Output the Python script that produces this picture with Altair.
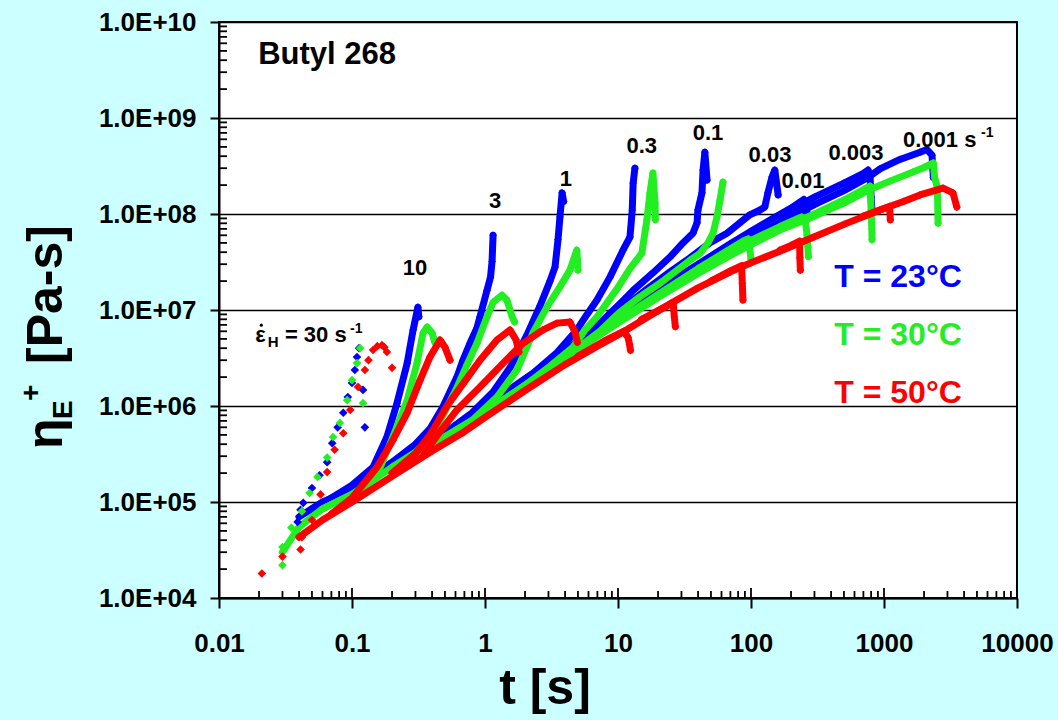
import altair as alt
import pandas as pd

FONT = "Liberation Sans"
BLUE, GREEN, RED = "#0000FF", "#22EE22", "#FF0000"

# ---------------- data (t [s], eta [Pa-s]) ----------------
# T = 23 C (blue)
B30_T = [0.039, 0.041, 0.043, 0.050, 0.057, 0.065, 0.071, 0.078, 0.086, 0.093, 0.100, 0.105, 0.109, 0.113, 0.121, 0.125]
B30_ETA = [6.2e4, 8.3e4, 9.8e4, 1.4e5, 1.9e5, 2.6e5, 4.1e5, 6.0e5, 8.5e5, 1.24e6, 1.74e6, 2.37e6, 3.24e6, 4.0e6, 1.47e6, 6.0e5]
B10_T = [0.05, 0.07, 0.1, 0.144, 0.183, 0.218, 0.26, 0.288, 0.313, 0.318]
B10_ETA = [8.5e4, 1.1e5, 1.5e5, 2.3e5, 4.75e5, 1.07e6, 2.8e6, 6.2e6, 1.07e7, 8.5e6]
B3_T = [0.1, 0.2, 0.3, 0.386, 0.483, 0.615, 0.683, 0.771, 0.87, 0.917, 1.035, 1.1, 1.13, 1.15]
B3_ETA = [1.4e5, 2.6e5, 4.0e5, 5.8e5, 9.8e5, 2.0e6, 3.0e6, 4.5e6, 6.5e6, 8.5e6, 1.6e7, 2.2e7, 3.2e7, 6.0e7]
B1_T = [0.3, 0.55, 0.8, 1.15, 1.54, 2.07, 2.59, 3.08, 3.36, 3.54, 3.66, 3.8, 3.9]
B1_ETA = [3.7e5, 5.8e5, 8.5e5, 1.4e6, 2.5e6, 5.5e6, 1.1e7, 2.0e7, 2.8e7, 5.4e7, 9.3e7, 1.66e8, 1.35e8]
B03_T = [1.0, 1.54, 2.3, 3.48, 4.9, 5.85, 6.95, 8.7, 10.9, 12.3, 12.8, 13.0, 13.4]
B03_ETA = [1.0e6, 1.5e6, 2.2e6, 3.6e6, 6.2e6, 9.0e6, 1.27e7, 2.2e7, 4.2e7, 5.75e7, 1.1e8, 2.1e8, 3.0e8]
B01_T = [2.0, 3.48, 5.18, 7.7, 10.9, 13.0, 18.3, 24.6, 30.8, 36.6, 39.3, 39.9, 42.8, 43.6, 45.0, 46.7]
B01_ETA = [1.9e6, 3.2e6, 5.0e6, 7.8e6, 1.25e7, 1.6e7, 2.43e7, 3.56e7, 5.0e7, 6.3e7, 8.1e7, 1.1e8, 1.66e8, 2.87e8, 4.4e8, 2.26e8]
B003_T = [4.0, 7.3, 10.9, 16.5, 24.6, 34.8, 49, 66, 82.6, 98, 117, 127, 134, 144, 151, 160]
B003_ETA = [3.7e6, 7.0e6, 1.05e7, 1.65e7, 2.5e7, 3.5e7, 5.0e7, 6.3e7, 8.1e7, 9.8e7, 1.1e8, 1.18e8, 1.66e8, 2.43e8, 2.87e8, 1.58e8]
B001_T = [20, 40, 70, 100, 150, 200, 250, 262, 268]
B001_ETA = [1.65e7, 3.0e7, 4.9e7, 6.6e7, 9.2e7, 1.15e8, 1.42e8, 1.1e8, 9.0e7]
B0003_T = [165, 300, 500, 700, 759, 786, 800, 810]
B0003_ETA = [9.5e7, 1.5e8, 2.1e8, 2.65e8, 2.87e8, 2.4e8, 1.5e8, 1.15e8]
B0001_T = [0.04, 0.06, 0.1, 0.2, 0.4, 0.7, 1, 2, 4, 7, 10, 20, 40, 70, 100, 165, 300, 500, 759, 933, 1318, 1866, 2100, 2296, 2350]
B0001_ETA = [7.0e4, 1.0e5, 1.35e5, 2.5e5, 4.3e5, 6.8e5, 9.5e5, 1.85e6, 3.6e6, 6.3e6, 8.8e6, 1.6e7, 2.8e7, 4.3e7, 5.6e7, 8.2e7, 1.25e8, 1.75e8, 2.4e8, 2.95e8, 3.7e8, 4.4e8, 4.7e8, 4.1e8, 2.4e8]

# T = 30 C (green)
G30_T = [0.030, 0.030, 0.035, 0.042, 0.048, 0.055, 0.065, 0.072, 0.081, 0.092, 0.100, 0.109, 0.115, 0.121]
G30_ETA = [2.2e4, 3.4e4, 5.4e4, 8.0e4, 1.24e5, 1.82e5, 2.9e5, 4.75e5, 6.65e5, 1.15e6, 1.86e6, 2.8e6, 4.0e6, 1.07e6]
G10_T = [0.06, 0.1, 0.121, 0.163, 0.203, 0.26, 0.308, 0.342, 0.367, 0.40, 0.42]
G10_ETA = [8.5e4, 1.2e5, 1.43e5, 2.3e5, 4.75e5, 1.15e6, 2.8e6, 5.75e6, 6.65e6, 5.75e6, 4.6e6]
G3_T = [0.2, 0.3, 0.386, 0.483, 0.615, 0.733, 0.87, 1.035, 1.15, 1.34, 1.46, 1.6, 1.67]
G3_ETA = [2.3e5, 3.3e5, 4.6e5, 8.0e5, 1.55e6, 2.7e6, 4.5e6, 8.5e6, 1.2e7, 1.43e7, 1.27e7, 8.5e6, 7.5e6]
G1_T = [0.4, 0.6, 0.81, 1.23, 1.74, 2.30, 2.92, 3.66, 4.35, 4.9, 4.95, 5.0]
G1_ETA = [4.0e5, 5.6e5, 7.2e5, 1.24e6, 2.37e6, 5.8e6, 1.07e7, 1.74e7, 2.6e7, 4.2e7, 3.4e7, 2.6e7]
G03_T = [1.3, 2.07, 3.08, 4.59, 5.65, 6.95, 9.8, 12.3, 15.1, 16.5, 17.4, 18.3, 19.0, 19.1]
G03_ETA = [1.1e6, 1.7e6, 2.6e6, 4.1e6, 6.2e6, 8.5e6, 1.65e7, 2.7e7, 3.9e7, 8.7e7, 1.66e8, 2.67e8, 1.3e8, 8.7e7]
G01_T = [4.0, 7.3, 10.35, 14.6, 20.7, 27.8, 34.8, 41.4, 47.5, 51.8, 55.5, 58.5, 61.6]
G01_ETA = [3.2e6, 6.0e6, 9.5e6, 1.37e7, 1.9e7, 2.6e7, 3.3e7, 3.9e7, 5.0e7, 6.3e7, 9.3e7, 1.4e8, 2.15e8]
G003_T = [10, 20, 40, 60, 87, 95, 98, 100]
G003_ETA = [7.8e6, 1.45e7, 2.7e7, 3.8e7, 5.2e7, 5.5e7, 4.3e7, 3.4e7]
G001_T = [50, 100, 165, 240, 255, 264, 268, 270]
G001_ETA = [3.0e7, 5.3e7, 7.4e7, 9.3e7, 9.0e7, 6.0e7, 4.5e7, 3.6e7]
G0003_T = [165, 300, 500, 700, 785, 800, 810, 813]
G0003_ETA = [7.0e7, 1.0e8, 1.4e8, 1.8e8, 1.95e8, 1.1e8, 7.0e7, 5.4e7]
G0001_T = [0.03, 0.04, 0.06, 0.1, 0.2, 0.4, 0.7, 1, 2, 4, 7, 10, 20, 40, 70, 100, 165, 300, 500, 785, 1110, 1652, 2000, 2350, 2400, 2520, 2550]
G0001_ETA = [3.0e4, 5.5e4, 8.5e4, 1.2e5, 2.3e5, 4.0e5, 6.2e5, 8.6e5, 1.65e6, 3.1e6, 5.3e6, 7.3e6, 1.35e7, 2.4e7, 3.7e7, 4.8e7, 6.8e7, 9.5e7, 1.3e8, 1.8e8, 2.2e8, 2.74e8, 3.05e8, 3.4e8, 2.4e8, 1.9e8, 8.0e7]

# T = 50 C (red)
R30_T = [0.021, 0.030, 0.041, 0.042, 0.050, 0.058, 0.065, 0.074, 0.086, 0.097, 0.111, 0.125, 0.133, 0.144, 0.155, 0.168, 0.175, 0.183, 0.200]
R30_ETA = [1.8e4, 2.7e4, 3.2e4, 4.3e4, 6.5e4, 1.2e5, 2.05e5, 3.5e5, 5.2e5, 9.1e5, 1.58e6, 2.37e6, 3.0e6, 3.83e6, 4.2e6, 4.3e6, 4.1e6, 3.65e6, 2.5e6]
R10_T = [0.07, 0.1, 0.154, 0.203, 0.26, 0.325, 0.386, 0.459, 0.50, 0.546]
R10_ETA = [7.5e4, 1.1e5, 2.3e5, 4.4e5, 8.5e5, 1.86e6, 3.24e6, 4.87e6, 4.1e6, 3.0e6]
R3_T = [0.2, 0.3, 0.386, 0.518, 0.683, 0.917, 1.23, 1.54, 1.71, 1.8]
R3_ETA = [2.0e5, 3.2e5, 5.0e5, 1.0e6, 1.7e6, 3.0e6, 4.87e6, 6.2e6, 4.9e6, 3.65e6]
R1_T = [0.35, 0.45, 0.615, 0.917, 1.37, 1.93, 2.73, 3.48, 4.35, 4.75, 4.95]
R1_ETA = [3.2e5, 5.2e5, 9.1e5, 1.58e6, 2.8e6, 4.5e6, 6.2e6, 7.3e6, 7.5e6, 5.9e6, 4.6e6]
R03_T = [5, 8, 11, 11.9, 12.2, 12.4]
R03_ETA = [3.3e6, 4.8e6, 6.0e6, 5.2e6, 4.4e6, 3.8e6]
R01_T = [15, 22, 26, 26.5, 27]
R01_ETA = [8.0e6, 1.05e7, 1.2e7, 8.5e6, 6.7e6]
R003_T = [50, 70, 85, 86, 87]
R003_ETA = [2.0e7, 2.55e7, 2.9e7, 1.9e7, 1.27e7]
R001_T = [165, 200, 232, 233, 235]
R001_ETA = [4.2e7, 4.7e7, 5.2e7, 3.5e7, 2.6e7]
R0003_T = [700, 900, 1100, 1110, 1115]
R0003_ETA = [9.5e7, 1.08e8, 1.2e8, 1.0e8, 8.7e7]
R0001_T = [0.04, 0.06, 0.1, 0.2, 0.4, 0.7, 1, 2, 4, 7, 10, 20, 40, 70, 100, 165, 300, 500, 933, 1400, 1866, 2780, 3300, 3530]
R0001_ETA = [4.3e4, 6.5e4, 1.0e5, 1.85e5, 3.4e5, 5.4e5, 7.6e5, 1.45e6, 2.7e6, 4.2e6, 5.5e6, 9.8e6, 1.7e7, 2.5e7, 3.1e7, 4.1e7, 5.8e7, 7.8e7, 1.1e8, 1.35e8, 1.58e8, 1.86e8, 1.66e8, 1.18e8]

# labels
RATE_LABELS = ["10", "3", "1", "0.3", "0.1", "0.03", "0.01", "0.003"]
RATE_LABEL_T = [0.298, 1.19, 4.06, 15.1, 47.5, 139, 246, 616]
RATE_LABEL_ETA = [2.3e7, 1.15e8, 1.96e8, 4.3e8, 5.9e8, 3.48e8, 1.87e8, 3.65e8]
TEMP_LABELS = ["T = 23°C", "T = 30°C", "T = 50°C"]
TEMP_KEYS = ["23", "30", "50"]
TEMP_LABEL_T = [1275, 1275, 1275]
TEMP_LABEL_ETA = [1.74e7, 4.32e6, 1.07e6]

# axes: domain, major ticks and minor ticks
X_DOMAIN = [0.01, 10000]
Y_DOMAIN = [1e4, 1e10]
X_MAJOR = [0.01, 0.1, 1, 10, 100, 1000, 10000]
Y_MAJOR = [1e4, 1e5, 1e6, 1e7, 1e8, 1e9, 1e10]
X_MINOR = [m * 10.0 ** e for e in range(-2, 4) for m in range(2, 10)]
Y_MINOR = [m * 10.0 ** e for e in range(4, 10) for m in range(2, 10)]
PLOT_W, PLOT_H = 798, 576

DENSE = [
    ("23", "10", B10_T, B10_ETA), ("23", "3", B3_T, B3_ETA), ("23", "1", B1_T, B1_ETA),
    ("23", "0.3", B03_T, B03_ETA), ("23", "0.1", B01_T, B01_ETA), ("23", "0.03", B003_T, B003_ETA),
    ("23", "0.01", B001_T, B001_ETA), ("23", "0.003", B0003_T, B0003_ETA), ("23", "0.001", B0001_T, B0001_ETA),
    ("30", "10", G10_T, G10_ETA), ("30", "3", G3_T, G3_ETA), ("30", "1", G1_T, G1_ETA),
    ("30", "0.3", G03_T, G03_ETA), ("30", "0.1", G01_T, G01_ETA), ("30", "0.03", G003_T, G003_ETA),
    ("30", "0.01", G001_T, G001_ETA), ("30", "0.003", G0003_T, G0003_ETA), ("30", "0.001", G0001_T, G0001_ETA),
    ("50", "10", R10_T, R10_ETA), ("50", "3", R3_T, R3_ETA), ("50", "1", R1_T, R1_ETA),
    ("50", "0.3", R03_T, R03_ETA), ("50", "0.1", R01_T, R01_ETA), ("50", "0.03", R003_T, R003_ETA),
    ("50", "0.01", R001_T, R001_ETA), ("50", "0.003", R0003_T, R0003_ETA), ("50", "0.001", R0001_T, R0001_ETA),
]
SPARSE = [("23", "30", B30_T, B30_ETA), ("30", "30", G30_T, G30_ETA), ("50", "30", R30_T, R30_ETA)]


def frame(curves):
    rows = []
    for temp, rate, ts, es in curves:
        for i, (t, e) in enumerate(zip(ts, es)):
            rows.append({"T": temp, "curve": temp + "_" + rate, "i": i, "t": t, "eta": e})
    return pd.DataFrame(rows)


dense = frame(DENSE)
sparse = frame(SPARSE)

# inward tick segments as two-point lines (tick lengths in px converted to log spans)
dec_y_px = PLOT_H / 6.0
dec_x_px = PLOT_W / 6.0
tick_rows = []
for k, v in enumerate(X_MINOR + X_MAJOR):
    length = 7 if k < len(X_MINOR) else 10
    tick_rows.append({"curve": "x%d" % k, "i": 0, "t": v, "eta": Y_DOMAIN[0]})
    tick_rows.append({"curve": "x%d" % k, "i": 1, "t": v, "eta": Y_DOMAIN[0] * 10 ** (length / dec_y_px)})
for k, v in enumerate(Y_MINOR):
    tick_rows.append({"curve": "y%d" % k, "i": 0, "t": X_DOMAIN[0], "eta": v})
    tick_rows.append({"curve": "y%d" % k, "i": 1, "t": X_DOMAIN[0] * 10 ** (8 / dec_x_px), "eta": v})
ticks = pd.DataFrame(tick_rows)

xs = alt.Scale(type="log", domain=X_DOMAIN, nice=False)
ys = alt.Scale(type="log", domain=Y_DOMAIN, nice=False)
cs = alt.Scale(domain=TEMP_KEYS, range=[BLUE, GREEN, RED])

x_axis = alt.Axis(values=X_MAJOR, format="~g", title=None, grid=False, orient="bottom", labelFont=FONT,
                  labelFontSize=26, labelFontWeight="bold", labelColor="black", labelPadding=22,
                  labelFlush=False, labelOverlap=False, tickSize=10, tickWidth=2, tickColor="black",
                  domainColor="black", domainWidth=2)
y_axis = alt.Axis(values=Y_MAJOR, title=None, grid=True, gridColor="black", gridWidth=1.5, gridOpacity=1,
                  orient="left",
                  labelExpr="'1.0E+' + (datum.value >= 1e10 ? '' : '0') + format(log(datum.value) / LN10, '.0f')",
                  labelFont=FONT, labelFontSize=26, labelFontWeight="bold", labelColor="black",
                  labelPadding=14, labelOverlap=False, tickSize=9, tickWidth=2, tickColor="black",
                  domainColor="black", domainWidth=2)


def X(field="t"):
    return alt.X(field + ":Q", scale=xs, axis=x_axis)


def Y(field="eta"):
    return alt.Y(field + ":Q", scale=ys, axis=y_axis)


COLOR = alt.Color("T:N", scale=cs, legend=None)

layers = []
for key in TEMP_KEYS:
    base = alt.Chart(dense).transform_filter(alt.datum.T == key)
    line = base.mark_line(strokeWidth=7, strokeCap="round", strokeJoin="round").encode(
        x=X(), y=Y(), color=COLOR, detail="curve:N", order="i:Q")
    pts = base.mark_point(shape="diamond", filled=True, size=60, opacity=1).encode(x=X(), y=Y(), color=COLOR)
    layers += [line, pts]

layers.append(alt.Chart(sparse).mark_point(shape="diamond", filled=True, size=75, opacity=1).encode(
    x=X(), y=Y(), color=COLOR))

layers.append(alt.Chart(ticks).mark_line(color="black", strokeWidth=1.8, strokeCap="butt").encode(
    x=X(), y=Y(), detail="curve:N", order="i:Q"))

# rate labels
rl = pd.DataFrame({"label": RATE_LABELS, "t": RATE_LABEL_T, "eta": RATE_LABEL_ETA})
layers.append(alt.Chart(rl).mark_text(font=FONT, fontSize=22, fontWeight="bold", color="black",
                                      align="center", baseline="alphabetic").encode(x=X(), y=Y(), text="label:N"))


def txt(s, t, eta, size, align="left", color="black"):
    return alt.Chart(pd.DataFrame({"s": [s], "t": [t], "eta": [eta]})).mark_text(
        font=FONT, fontSize=size, fontWeight="bold", color=color, align=align, baseline="alphabetic"
    ).encode(x=X(), y=Y(), text="s:N")


layers.append(txt("0.001 s", 1390, 5.0e8, 22))
layers.append(txt("-1", 5360, 6.3e8, 14))
layers.append(txt("\u03b5", 0.0187, 4.64e6, 22))
# dot over epsilon (rate symbol)
layers.append(alt.Chart(pd.DataFrame({"t": [0.0208], "eta": [6.95e6]})).mark_point(
    shape="circle", filled=True, size=10, color="black", opacity=1).encode(x=X(), y=Y()))
layers.append(txt("H", 0.0233, 4.1e6, 15))
layers.append(txt("= 30 s", 0.0313, 4.64e6, 22))
layers.append(txt("-1", 0.0966, 5.76e6, 14))
layers.append(txt("Butyl 268", 0.0197, 3.65e9, 31))

tl = pd.DataFrame({"label": TEMP_LABELS, "T": TEMP_KEYS, "t": TEMP_LABEL_T, "eta": TEMP_LABEL_ETA})
layers.append(alt.Chart(tl).mark_text(font=FONT, fontSize=32, fontWeight="bold", align="center",
                                      baseline="alphabetic").encode(
    x=X(), y=Y(), text="label:N", color=COLOR))


# axis titles (outside the plot, placed in pixels relative to the plot origin)
def ptxt(s, px, py, size, angle=0, align="left"):
    return alt.Chart(pd.DataFrame({"s": [s]})).mark_text(
        font=FONT, fontSize=size, fontWeight="bold", color="black", align=align, baseline="alphabetic",
        angle=angle).encode(x=alt.value(px - 219), y=alt.value(py - 22), text="s:N")


layers.append(ptxt("t [s]", 545, 704, 50, align="center"))
layers.append(ptxt("\u03b7", 62, 449, 50, angle=270))
layers.append(ptxt("E", 72, 419, 28, angle=270))
layers.append(ptxt("+", 40, 401, 28, angle=270))
layers.append(ptxt("[Pa-s]", 62, 364, 50, angle=270))

chart = alt.layer(*layers).properties(
    width=PLOT_W, height=PLOT_H, background="#CCFFFF",
    padding={"left": 219, "top": 22, "right": 41, "bottom": 122},
    autosize=alt.AutoSizeParams(type="none"),
).configure_view(fill="white", stroke="black", strokeWidth=2)

chart.save("out.html", embed_options={"renderer": "svg", "actions": False})
